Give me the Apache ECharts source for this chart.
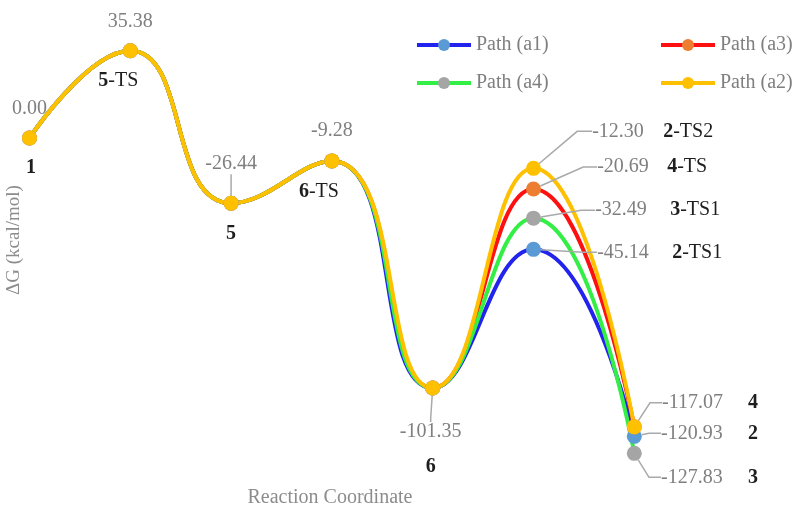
<!DOCTYPE html>
<html><head><meta charset="utf-8">
<script src="https://cdn.jsdelivr.net/npm/echarts@6/dist/echarts.min.js"></script>
<style>html,body{margin:0;padding:0;background:#fff}#c{width:797px;height:509px}</style>
</head><body><div id="c"></div>
<script>
// ---- data ----
const categories = ['1', '5-TS', '5', '6-TS', '6', 'TS', 'P'];
const seriesNames = ['Path (a1)', 'Path (a3)', 'Path (a4)', 'Path (a2)'];
const pathA1 = [0.00, 35.38, -26.44, -9.28, -101.35, -45.14, -120.93];
const pathA3 = [0.00, 35.38, -26.44, -9.28, -101.35, -20.69, -117.07];
const pathA4 = [0.00, 35.38, -26.44, -9.28, -101.35, -32.49, -127.83];
const pathA2 = [0.00, 35.38, -26.44, -9.28, -101.35, -12.30, -117.07];
const stageNames = ['1', '5-TS', '5', '6-TS', '6'];
const tsNames = ['2-TS1', '4-TS', '3-TS1', '2-TS2'];
const productNames = ['2', '4', '3', '4'];

// ---- styles ----
const FONT = 'Liberation Serif';
const valueColor = '#7f7f7f';
const nameColor = '#1e1e1e';
const lineColors = ['#2323ee', '#ff1010', '#33ee44', '#ffc000'];
const markerColors = ['#5b9bd5', '#ed7d31', '#a5a5a5', '#ffc000'];

// label placement per series index -> data index (offset of label anchor from the point)
const labelSpecs = [
  { // a1
    0: { t: 'name', off: [1.5, 30] }, 1: { t: 'name', off: [-12, 30] }, 2: { t: 'name', off: [0, 31] },
    3: { t: 'name', off: [-13, 31] }, 4: { t: 'name', off: [-2, 79] },
    5: { t: 'both', vs: 'v75', off: [59.7, 3], lead: true, len: 14 },
    6: { t: 'both', vs: 'v87', off: [22.7, -3], lead: true, len: 12 }
  },
  { // a3
    5: { t: 'both', vs: 'v70', off: [59.7, -22], lead: true, len: 14 }
  },
  { // a4
    5: { t: 'both', vs: 'v75', off: [57.7, -8], lead: true, len: 14 },
    6: { t: 'both', vs: 'v87', off: [22.7, 24], lead: true, len: 12 }
  },
  { // a2
    0: { t: 'value', off: [0, -29] }, 1: { t: 'value', off: [0, -29] },
    2: { t: 'value', off: [0, -39], lead: true, len: 4 },
    3: { t: 'value', off: [0, -30] },
    4: { t: 'value', off: [-2, 44], lead: true, len: 4 },
    5: { t: 'both', vs: 'v71', off: [54.7, -37], lead: true, len: 15 },
    6: { t: 'both', vs: 'v86', off: [23.7, -24], lead: true, len: 12 }
  }
];

function nameRich(s) {
  const m = s.match(/^(\d+)(.*)$/);
  return '{b|' + m[1] + '}' + (m[2] ? '{n|' + m[2] + '}' : '');
}
const vStyle = (w) => ({ fontFamily: FONT, fontSize: 20, color: valueColor, width: w });
const rich = {
  v: vStyle(undefined), v70: vStyle(70), v71: vStyle(71), v75: vStyle(75), v86: vStyle(86), v87: vStyle(87),
  b: { fontFamily: FONT, fontSize: 20, fontWeight: 'bold', color: nameColor },
  n: { fontFamily: FONT, fontSize: 20, color: nameColor }
};

function buildData(values, sIdx) {
  const specs = labelSpecs[sIdx];
  return values.map((v, i) => {
    const sp = specs[i];
    if (!sp) return v;
    let text;
    if (sp.t === 'value') text = '{v|' + v.toFixed(2) + '}';
    else if (sp.t === 'name') text = nameRich(stageNames[i]);
    else text = '{' + sp.vs + '|' + v.toFixed(2) + '}' + nameRich(i === 5 ? tsNames[sIdx] : productNames[sIdx]);
    return {
      value: v,
      label: { show: true, formatter: text, position: 'inside', padding: sp.lead ? [2, 4] : 0 },
      labelLine: { show: !!sp.lead, length2: sp.len || 10, smooth: false,
        lineStyle: { color: '#a9a9a9', width: 1.5 } }
    };
  });
}

function labelLayout(p) {
  const sp = labelSpecs[p.seriesIndex] && labelSpecs[p.seriesIndex][p.dataIndex];
  if (!sp) return {};
  const cx = p.rect.x + p.rect.width / 2, cy = p.rect.y + p.rect.height / 2;
  return { x: cx + sp.off[0], y: cy + sp.off[1], align: sp.t === 'both' ? 'left' : 'center', verticalAlign: 'middle' };
}

const allValues = [pathA1, pathA3, pathA4, pathA2];
const series = seriesNames.map((name, s) => ({
  name, type: 'line', data: buildData(allValues[s], s),
  smooth: 0.5, symbol: 'circle', symbolSize: 15, showAllSymbol: true,
  lineStyle: { color: lineColors[s], width: 4 },
  itemStyle: { color: markerColors[s] },
  label: { show: false, fontFamily: FONT, fontSize: 20, color: valueColor, textBorderWidth: 0, rich },
  labelLayout,
  emphasis: { disabled: true }
}));

const chart = echarts.init(document.getElementById('c'), null, { renderer: 'canvas' });
const legendText = { fontFamily: FONT, fontSize: 20, color: valueColor, lineHeight: 20 };
const legendBase = { orient: 'vertical', top: 35, itemGap: 18, padding: 0,
  itemWidth: 54, itemHeight: 15, textStyle: legendText, selectedMode: false,
  lineStyle: { width: 4 } };
chart.setOption({
  animation: false,
  backgroundColor: '#ffffff',
  grid: { left: 29.5, right: 162.7, top: 39.3, bottom: 25.6, containLabel: false },
  xAxis: { type: 'category', data: categories, boundaryGap: false, show: false },
  yAxis: { type: 'value', min: -140, max: 40, show: false },
  legend: [
    Object.assign({ data: ['Path (a1)', 'Path (a4)'], left: 415 }, legendBase),
    Object.assign({ data: ['Path (a3)', 'Path (a2)'], left: 659 }, legendBase)
  ],
  graphic: [
    { type: 'text', x: 14, y: 240, rotation: Math.PI / 2,
      style: { text: 'ΔG (kcal/mol)', font: '19px "Liberation Serif"', fill: '#8c8c8c', align: 'center', verticalAlign: 'middle' } },
    { type: 'text', x: 330, y: 498,
      style: { text: 'Reaction Coordinate', font: '20px "Liberation Serif"', fill: '#8c8c8c', align: 'center', verticalAlign: 'middle' } }
  ],
  series
});
</script>
</body></html>
